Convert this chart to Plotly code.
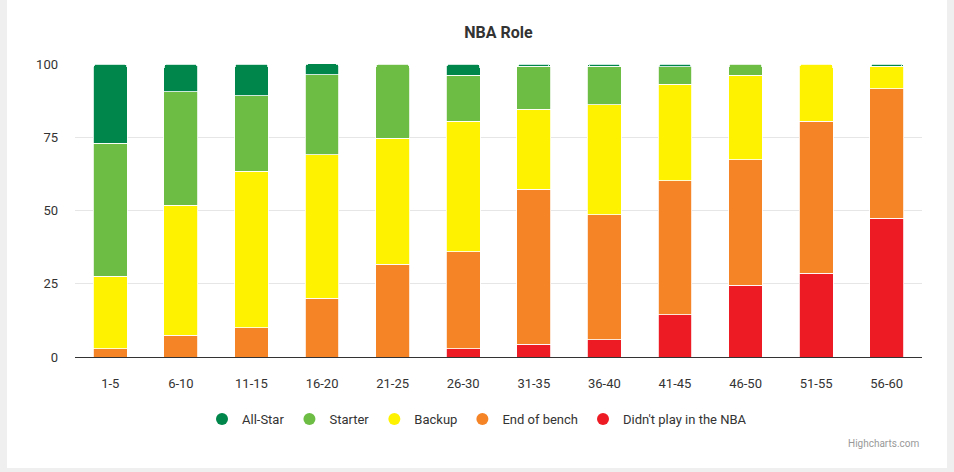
import plotly.graph_objects as go

categories = ["1-5", "6-10", "11-15", "16-20", "21-25", "26-30",
              "31-35", "36-40", "41-45", "46-50", "51-55", "56-60"]
didnt_play = [0, 0, 0, 0, 0, 2.9, 4.3, 5.9, 14.5, 24.5, 28.6, 47.3]
end_of_bench = [2.9, 7.4, 10.0, 20.0, 31.6, 33.1, 53.0, 42.7, 45.6, 42.9, 51.8, 44.3]
backup = [24.7, 44.4, 53.4, 49.0, 43.0, 44.5, 27.2, 37.5, 33.0, 28.8, 19.6, 7.7]
starter = [45.4, 38.7, 25.7, 27.3, 25.4, 15.7, 14.8, 13.2, 5.9, 3.8, 0, 0]
all_star = [27.0, 9.5, 10.9, 3.8, 0, 3.8, 0.7, 0.7, 1.0, 0, 0, 0.7]
y_ticks = [0, 25, 50, 75, 100]

series = [
    ("Didn't play in the NBA", didnt_play, "#ed1c24"),
    ("End of bench", end_of_bench, "#f58426"),
    ("Backup", backup, "#fff200"),
    ("Starter", starter, "#6dbd45"),
    ("All-Star", all_star, "#00864b"),
]

W, H = 954, 472
ML, MR, MT, MB = 75, 32, 64, 115
PW, PH = W - ML - MR, H - MT - MB

fig = go.Figure()
for name, vals, color in series:
    fig.add_trace(go.Bar(
        name=name, x=categories,
        y=[v if v > 0 else None for v in vals],
        marker=dict(color=color, line=dict(color="#ffffff", width=0.8)),
        showlegend=False,
    ))

# legend entries with circle symbols (All-Star first)
for name, vals, color in reversed(series):
    fig.add_trace(go.Scatter(
        name=name, x=[None], y=[None], mode="markers",
        marker=dict(symbol="circle", size=12, color=color),
        showlegend=True,
    ))

def px_x(p):
    return (p - ML) / PW

def px_y(p):
    return (H - MB - p) / PH

font_family = "Roboto, Inter, sans-serif"

fig.update_layout(
    width=W, height=H,
    margin=dict(l=ML, r=MR, t=MT, b=MB, pad=0),
    barmode="stack",
    bargap=0.52,
    barcornerradius=4,
    paper_bgcolor="#ffffff",
    plot_bgcolor="#ffffff",
    font=dict(family=font_family, size=13, color="#333333"),
    title=dict(text="<b>NBA Role</b>", x=0.5, xref="paper", xanchor="center",
               y=1 - 32 / H, yanchor="middle",
               font=dict(family=font_family, size=16, color="#333333")),
    xaxis=dict(
        showline=True, linecolor="#333333", linewidth=1,
        showgrid=False, ticks="", ticklabelstandoff=14,
        tickfont=dict(size=13, color="#333333"),
        fixedrange=True,
    ),
    yaxis=dict(
        range=[0, 100], tickvals=y_ticks, showgrid=True, gridcolor="#e6e6e6",
        gridwidth=1, zeroline=False, showline=False, ticks="",
        ticklabelstandoff=16,
        tickfont=dict(size=13, color="#333333"),
        fixedrange=True,
    ),
    legend=dict(
        orientation="h", traceorder="normal",
        x=(W / 2 - ML) / PW, xanchor="center",
        y=px_y(419), yanchor="middle",
        font=dict(size=13, color="#333333"),
        itemwidth=30, itemclick=False,
        bgcolor="rgba(0,0,0,0)",
    ),
    showlegend=True,
)

frame = "#efefef"
fig.add_shape(type="rect", xref="paper", yref="paper", layer="below",
              x0=px_x(0), x1=px_x(7), y0=px_y(H), y1=px_y(0),
              fillcolor=frame, line=dict(width=0))
fig.add_shape(type="rect", xref="paper", yref="paper", layer="below",
              x0=px_x(947), x1=px_x(W), y0=px_y(H), y1=px_y(0),
              fillcolor=frame, line=dict(width=0))
fig.add_shape(type="rect", xref="paper", yref="paper", layer="below",
              x0=px_x(0), x1=px_x(W), y0=px_y(H), y1=px_y(468),
              fillcolor=frame, line=dict(width=0))

fig.add_annotation(text="Highcharts.com", xref="paper", yref="paper",
                   x=px_x(922), y=px_y(443), xanchor="right", yanchor="middle",
                   showarrow=False, font=dict(size=10, color="#999999"))

fig.write_html("out.html")
